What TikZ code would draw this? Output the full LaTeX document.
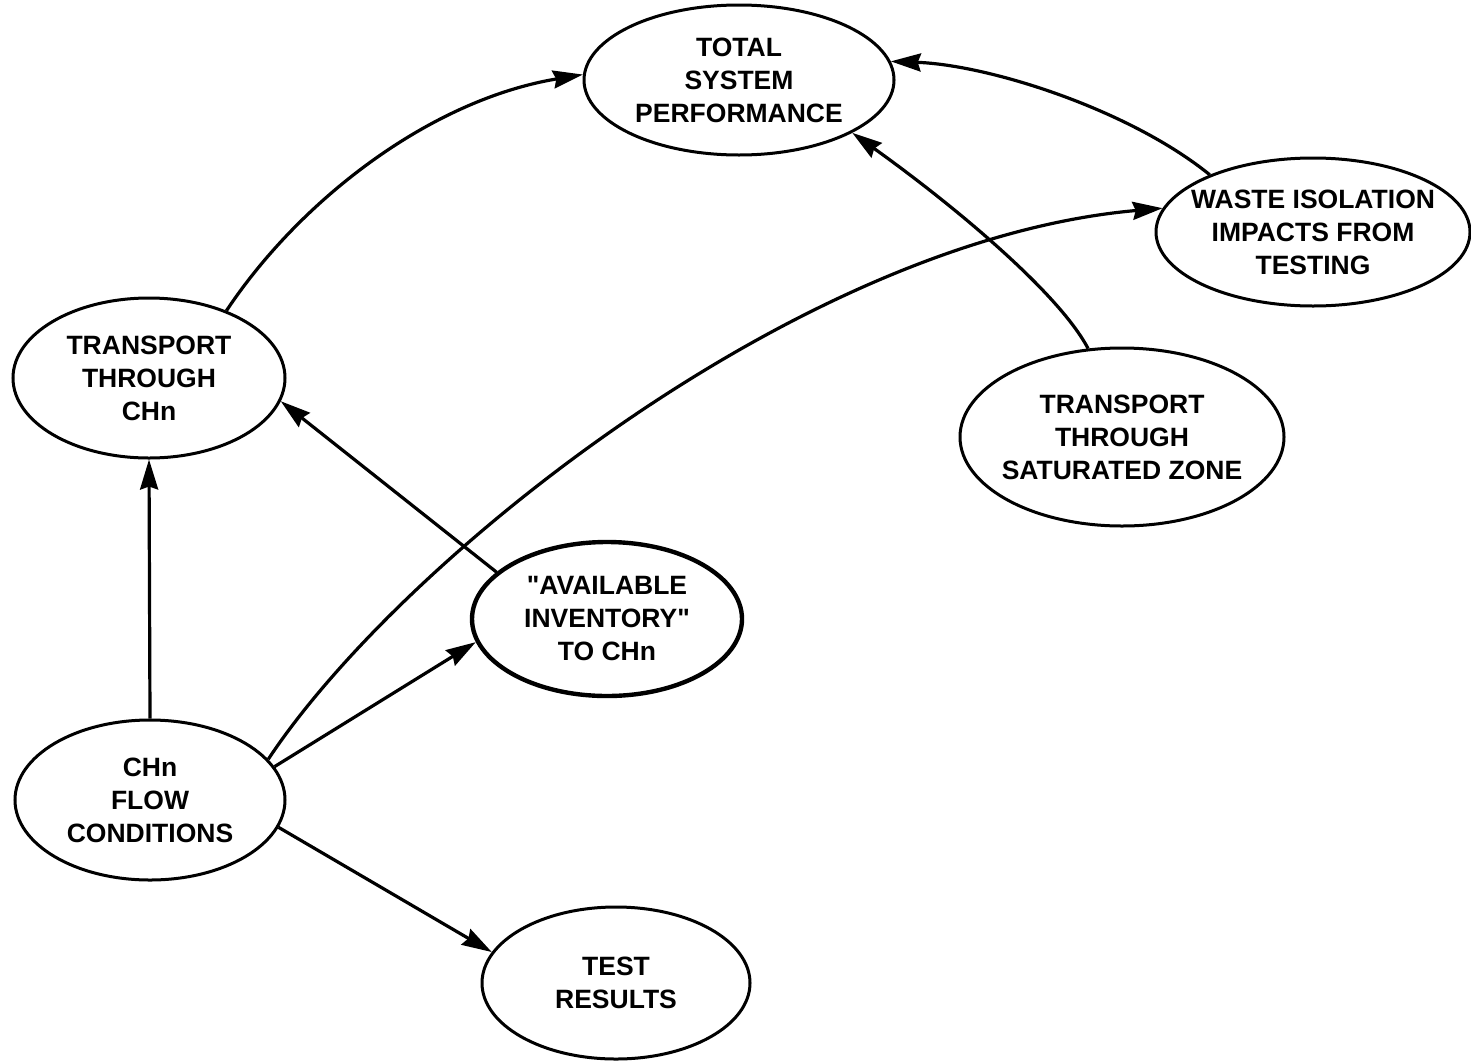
\documentclass[tikz,border=0pt]{standalone}
\usepackage{fontspec}
\setmainfont{Liberation Sans}
\usetikzlibrary{shapes.geometric,arrows.meta}
\tikzset{
  oval/.style={draw, ellipse, line width=3pt, inner sep=-40pt, align=center,
    font=\bfseries\fontsize{26.5}{33}\selectfont},
  conn/.style={line width=3.2pt, -{Stealth[length=30pt,width=18pt,inset=3pt]}},
}
\begin{document}
\begin{tikzpicture}[x=1pt,y=-1pt]
\useasboundingbox (0,0) rectangle (1471,1063);
\node[oval, minimum width=310pt, minimum height=150pt] (tsp) at (739,80) {TOTAL\\SYSTEM\\PERFORMANCE};
\node[oval, minimum width=314pt, minimum height=148pt] (wi) at (1313,232) {WASTE ISOLATION\\IMPACTS FROM\\TESTING};
\node[oval, minimum width=272pt, minimum height=160pt] (tch) at (149,378) {TRANSPORT\\THROUGH\\CHn};
\node[oval, minimum width=324pt, minimum height=178pt] (tsz) at (1122,437) {TRANSPORT\\THROUGH\\SATURATED ZONE};
\node[oval, line width=4.4pt, minimum width=270pt, minimum height=154pt] (ai) at (607,619) {\textquotedbl AVAILABLE\\INVENTORY\textquotedbl\\TO CHn};
\node[oval, minimum width=270pt, minimum height=160pt] (fc) at (150,800) {CHn\\FLOW\\CONDITIONS};
\node[oval, minimum width=268pt, minimum height=152pt] (tr) at (616,983) {TEST\\RESULTS};

\draw[conn] (tch.41) .. controls (300,200) and (430,100) .. (tsp.178);
\draw[conn] (wi.151) .. controls (1130,110) and (990,65) .. (tsp.7);
\draw[conn] (tsz.111) .. controls (1060,295) and (960,210) .. (tsp.-25);
\draw[conn] (fc.90) -- (tch.-90);
\draw[conn] (ai.157) -- (tch.-10);
\draw[conn] (fc.19) .. controls (400,560) and (800,240) .. (wi.171);
\draw[conn] (fc.15) -- (ai.-170);
\draw[conn] (fc.-12) -- (tr.166);
\end{tikzpicture}
\end{document}
